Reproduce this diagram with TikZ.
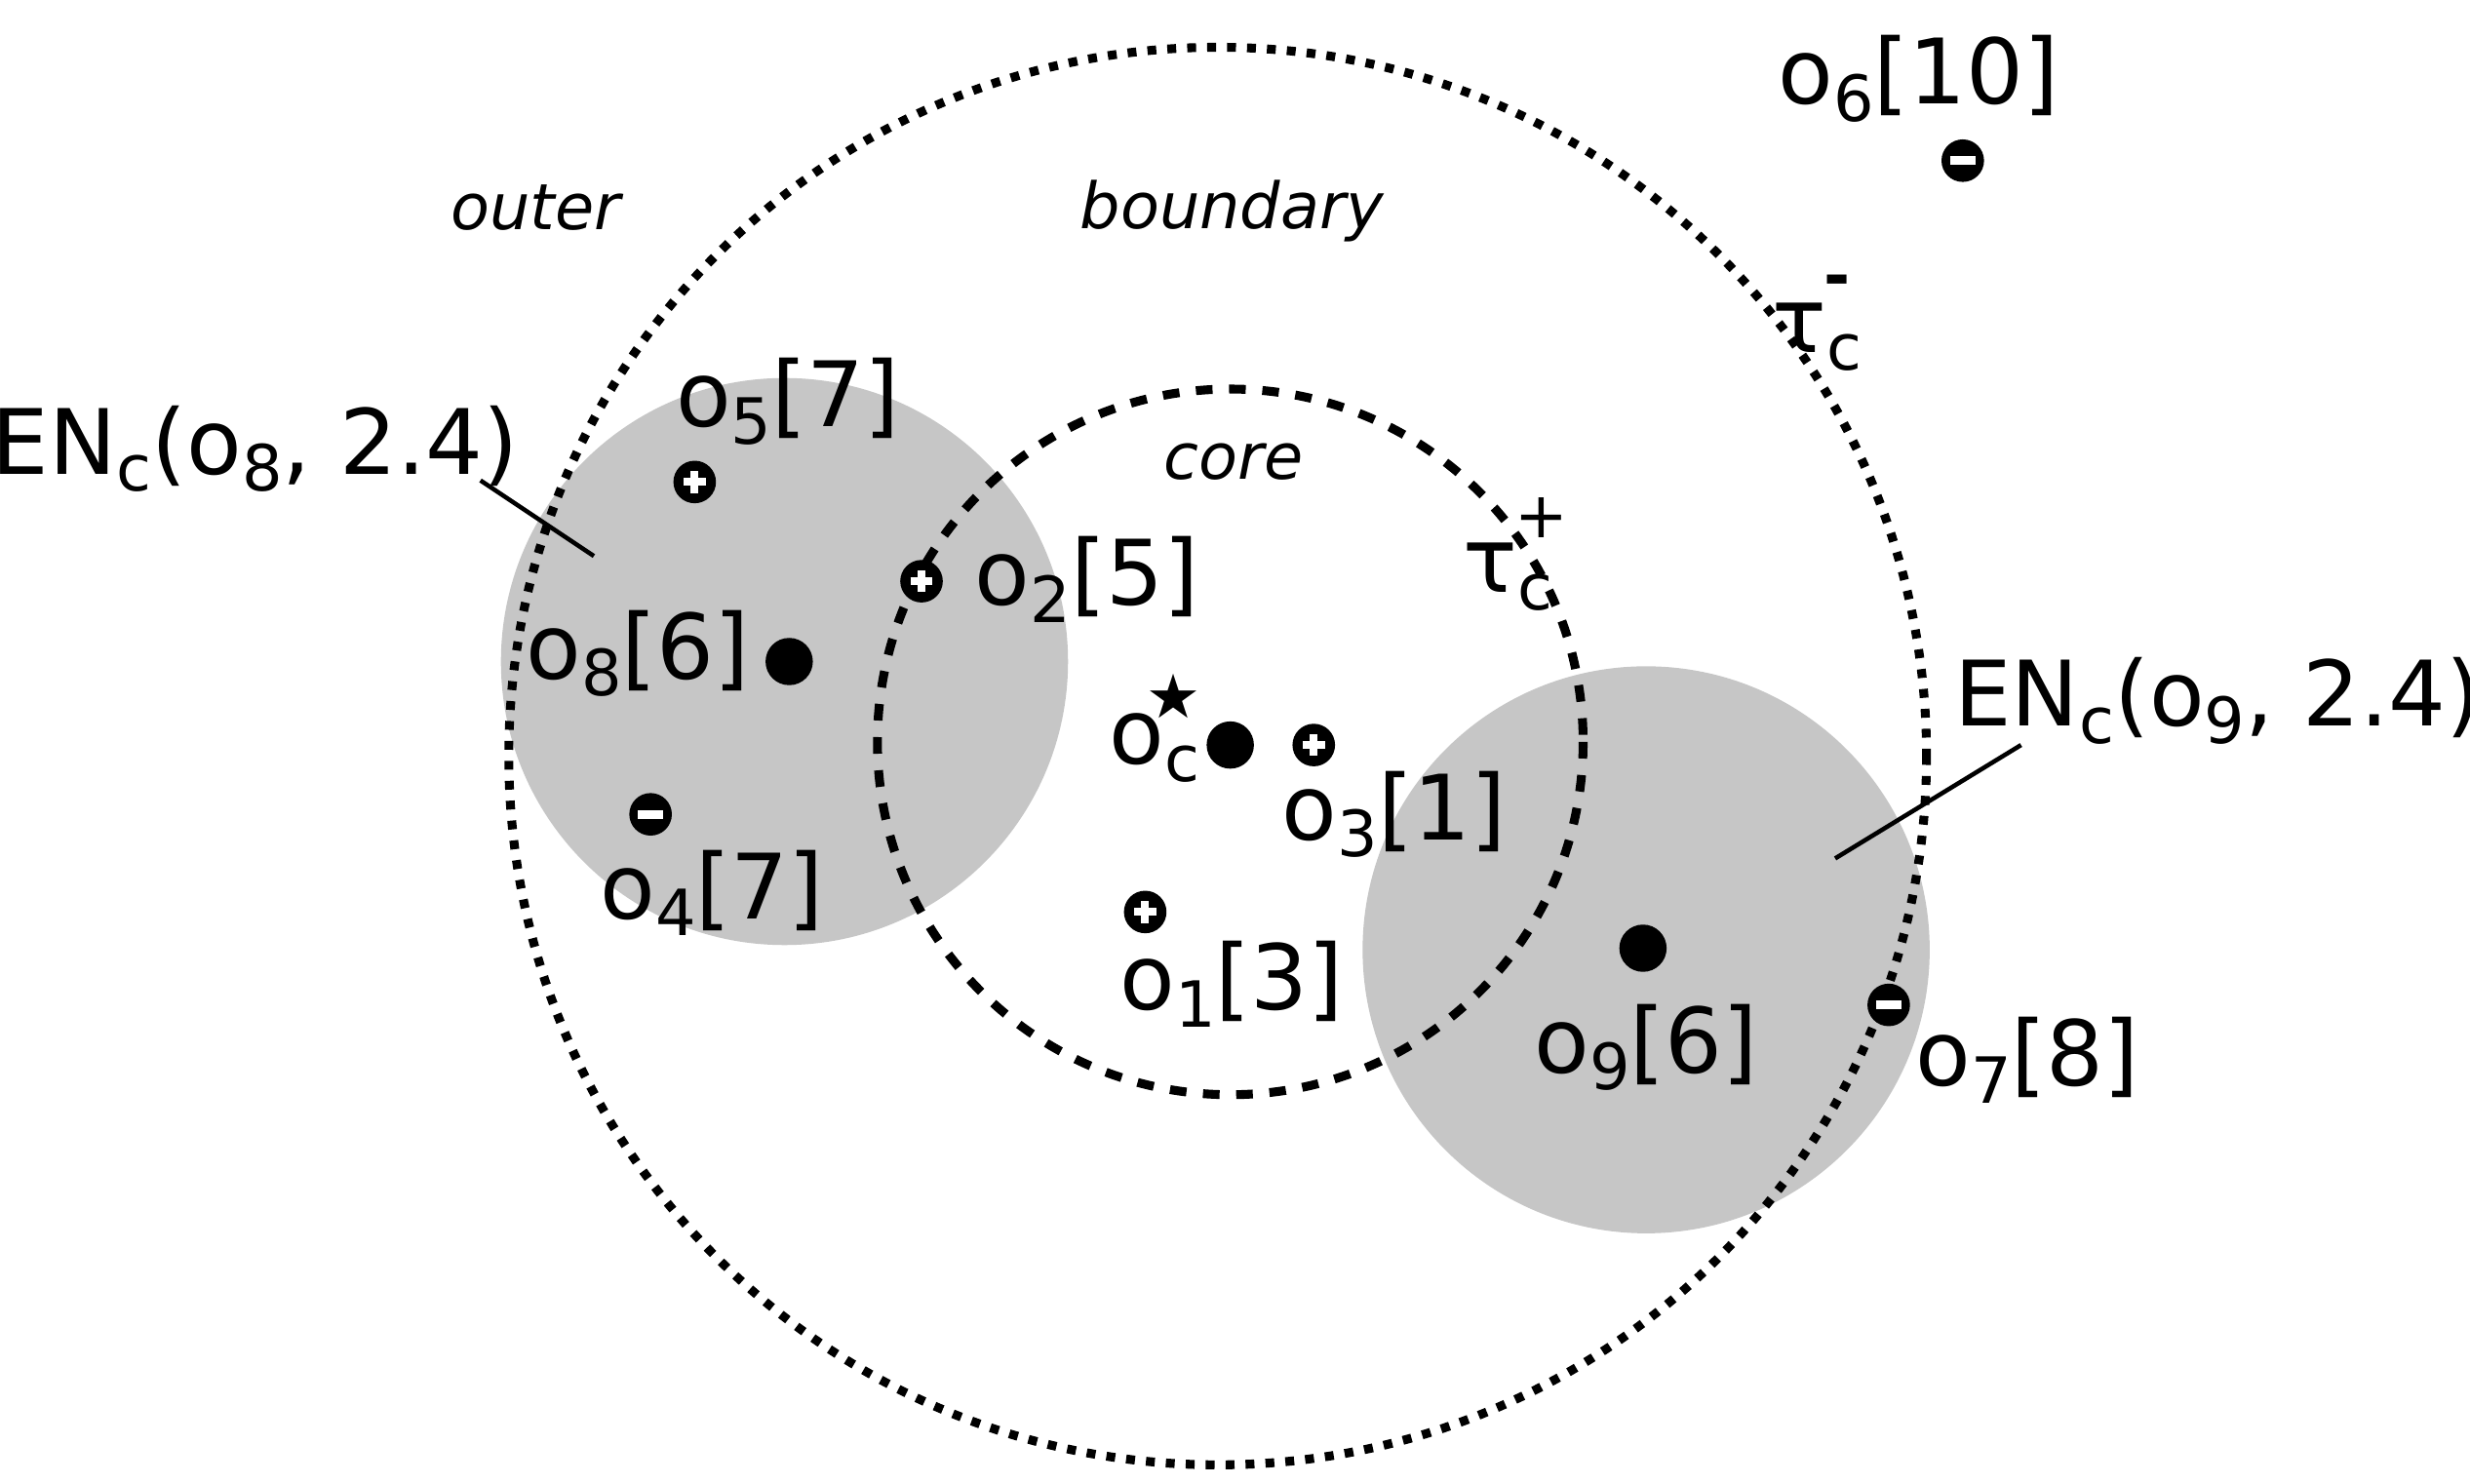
\documentclass[tikz,border=0pt]{standalone}
\usepackage{fontspec}
\setmainfont{DejaVu Sans}
\usetikzlibrary{shapes.geometric}
\newcommand{\sbs}[1]{\raisebox{-0.35ex}{\fontsize{11.5}{12}\selectfont #1}}
\newcommand{\sps}[1]{\raisebox{1.1ex}{\fontsize{11.5}{12}\selectfont #1}}
\begin{document}
\begin{tikzpicture}[x=0.01cm,y=-0.01cm,
  lbl/.style={inner sep=0pt,font=\fontsize{16.3}{18}\selectfont},
  ital/.style={inner sep=0pt,font=\fontsize{11.5}{13}\selectfont\itshape},
  dotm/.style={circle,fill=black,inner sep=0pt,minimum size=0.3cm},
  sgn/.style={circle,fill=black,inner sep=0pt,minimum size=0.27cm}]
\useasboundingbox (0,0) rectangle (1568,942);
\fill[gray!45] (498,420) circle (180);
\fill[gray!45] (1045,603) circle (180);
\draw[line width=1.6pt,dotted] (773,480) circle (450);
\draw[line width=1.6pt,dashed] (781,471) circle (224);
\node[dotm] (o8) at (501,420) {};
\node[dotm] (o9) at (1043,602) {};
\node[dotm] (oc) at (781,473) {};
\node[font=\fontsize{11}{11}\selectfont,inner sep=0pt] (star) at (745,442) {★};
\foreach \n/\x/\y in {p5/441/306,p2/585/369,p3/834/473,p1/727/579}{
  \node[sgn] (\n) at (\x,\y) {};
  \draw[white,line width=1.4pt] (\x-7,\y) -- (\x+7,\y) (\x,\y-7) -- (\x,\y+7);}
\foreach \n/\x/\y in {m4/413/517,m6/1246/102,m7/1199/638}{
  \node[sgn] (\n) at (\x,\y) {};
  \draw[white,line width=1.6pt] (\x-8,\y) -- (\x+8,\y);}
\node[lbl] (l5) at (500,255) {o\sbs{5}[7]};
\node[lbl] (l2) at (690,368) {o\sbs{2}[5]};
\node[lbl] (l8) at (405,415) {o\sbs{8}[6]};
\node[lbl] (l4) at (452,567) {o\sbs{4}[7]};
\node[lbl] (lc) at (733,475) {o\sbs{c}};
\node[lbl] (l3) at (885,517) {o\sbs{3}[1]};
\node[lbl] (l1) at (782,625) {o\sbs{1}[3]};
\node[lbl] (l9) at (1045,665) {o\sbs{9}[6]};
\node[lbl] (l7) at (1287,673) {o\sbs{7}[8]};
\node[lbl] (l6) at (1218,50) {o\sbs{6}[10]};
\node[lbl] (tm) at (1150,205) {τ\sbs{c}\hspace{-0.42em}\sps{\textbf{-}}};
\node[lbl] (tp) at (962,352) {τ\sbs{c}\hspace{-0.42em}\sps{+}};
\node[ital] (outer) at (340,132) {outer};
\node[ital] (bnd) at (782,134) {boundary};
\node[ital] (core) at (783,293) {core};
\node[lbl] (en8) at (162,285) {EN\sbs{c}(o\sbs{8}, 2.4)};
\node[lbl] (en9) at (1408,445) {EN\sbs{c}(o\sbs{9}, 2.4)};
\coordinate (a8) at (377,353);
\coordinate (a9) at (1165,545);
\draw[line width=0.8pt] (305,305) -- (a8);
\draw[line width=0.8pt] (1283,473) -- (a9);
\end{tikzpicture}
\end{document}
